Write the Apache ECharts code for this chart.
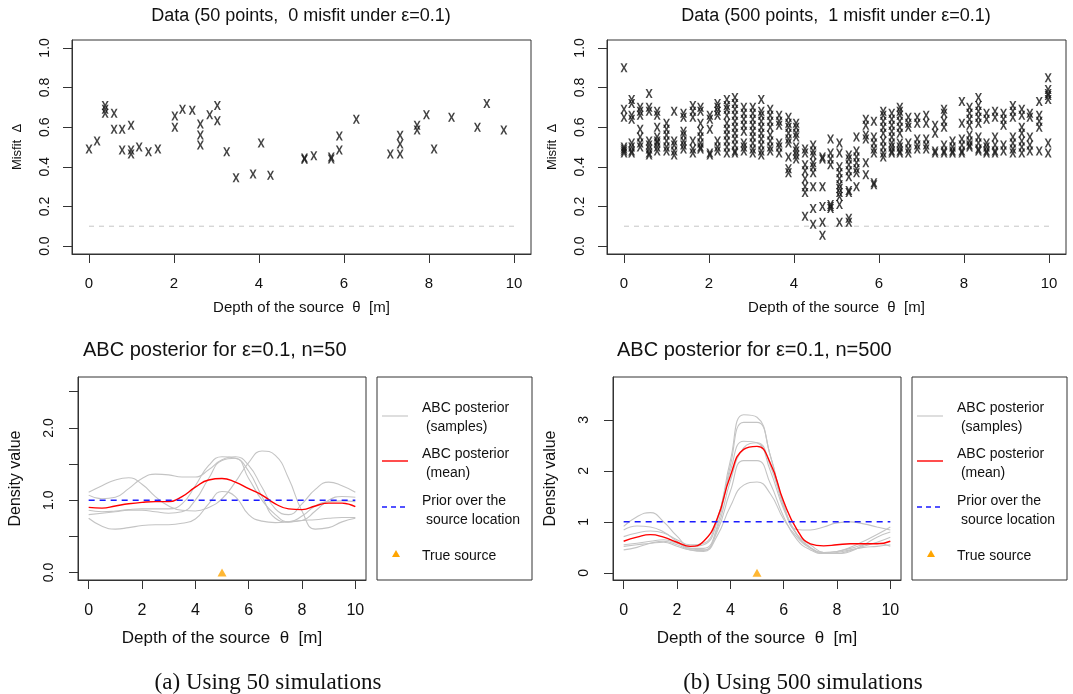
<!DOCTYPE html>
<html>
<head>
<meta charset="utf-8">
<script src="https://cdn.jsdelivr.net/npm/echarts@6/dist/echarts.min.js"></script>
<style>
html, body { margin: 0; background: #fff; }
#chart { width: 1073px; height: 694px; }
</style>
</head>
<body>
<div id="chart"></div>
<script>
// ---- top left: 50 simulations, misfit vs depth ----
const depth50 = [0.00, 0.19, 0.38, 0.38, 0.38, 0.59, 0.59, 0.78, 0.78, 0.99, 0.99, 0.99, 1.18, 1.40, 1.62,
    2.02, 2.02, 2.20, 2.43, 2.62, 2.62, 2.62, 2.84, 3.02, 3.02, 3.24, 3.46, 3.86, 4.05, 4.27,
    5.07, 5.07, 5.29, 5.70, 5.70, 5.89, 5.89, 6.29, 7.09, 7.32, 7.32, 7.32, 7.72, 7.72, 7.94,
    8.12, 8.53, 9.14, 9.36, 9.76];
const misfit50 = [0.49, 0.53, 0.71, 0.69, 0.67, 0.67, 0.59, 0.59, 0.485, 0.61, 0.485, 0.465, 0.50, 0.476, 0.49,
    0.656, 0.60, 0.69, 0.686, 0.616, 0.56, 0.51, 0.663, 0.71, 0.633, 0.476, 0.345, 0.364, 0.52, 0.357,
    0.438, 0.445, 0.456, 0.45, 0.44, 0.485, 0.556, 0.64, 0.465, 0.465, 0.515, 0.559, 0.61, 0.586, 0.663,
    0.49, 0.65, 0.60, 0.72, 0.586];

// ---- top right: 500 simulations, grouped by depth column ----
const depth500Cols = [0.00, 0.18, 0.38, 0.59, 0.78, 1.00, 1.18, 1.40, 1.62, 1.80, 2.02, 2.20, 2.42, 2.61, 2.82,
    3.03, 3.23, 3.44, 3.65, 3.87, 4.05, 4.26, 4.45, 4.67, 4.86, 5.07, 5.29, 5.47, 5.69, 5.88,
    6.10, 6.30, 6.49, 6.69, 6.90, 7.11, 7.32, 7.53, 7.73, 7.95, 8.13, 8.34, 8.53, 8.73, 8.93,
    9.15, 9.36, 9.55, 9.77, 9.98];
const misfit500Cols = [
    [0.90, 0.69, 0.65, 0.50, 0.49, 0.48, 0.47],
    [0.74, 0.72, 0.66, 0.64, 0.52, 0.50, 0.48, 0.47],
    [0.70, 0.68, 0.66, 0.59, 0.55, 0.52, 0.50],
    [0.77, 0.70, 0.68, 0.53, 0.51, 0.49, 0.47, 0.46],
    [0.68, 0.66, 0.60, 0.55, 0.53, 0.52, 0.50, 0.48],
    [0.62, 0.59, 0.56, 0.53, 0.50, 0.48],
    [0.68, 0.53, 0.51, 0.48, 0.46],
    [0.67, 0.65, 0.58, 0.56, 0.53, 0.51, 0.49],
    [0.71, 0.68, 0.65, 0.53, 0.49, 0.47],
    [0.70, 0.68, 0.62, 0.58, 0.55, 0.52, 0.50, 0.49],
    [0.66, 0.64, 0.59, 0.47, 0.46],
    [0.72, 0.70, 0.68, 0.66, 0.53, 0.50, 0.48],
    [0.74, 0.71, 0.69, 0.66, 0.62, 0.59, 0.56, 0.53, 0.50, 0.47],
    [0.75, 0.72, 0.69, 0.66, 0.63, 0.60, 0.57, 0.54, 0.51, 0.48, 0.47],
    [0.70, 0.67, 0.64, 0.61, 0.58, 0.52, 0.50, 0.48],
    [0.70, 0.67, 0.64, 0.61, 0.58, 0.55, 0.52, 0.49, 0.47],
    [0.74, 0.68, 0.66, 0.63, 0.60, 0.57, 0.54, 0.51, 0.48, 0.46],
    [0.69, 0.66, 0.63, 0.60, 0.56, 0.53, 0.50, 0.48],
    [0.66, 0.63, 0.61, 0.52, 0.50, 0.47],
    [0.65, 0.62, 0.60, 0.57, 0.54, 0.52, 0.45, 0.39, 0.37],
    [0.62, 0.60, 0.57, 0.55, 0.50, 0.48, 0.46, 0.44],
    [0.49, 0.47, 0.41, 0.38, 0.34, 0.30, 0.27, 0.15],
    [0.51, 0.48, 0.46, 0.42, 0.40, 0.37, 0.30, 0.19, 0.11],
    [0.45, 0.44, 0.30, 0.20, 0.12, 0.055],
    [0.54, 0.47, 0.44, 0.41, 0.21, 0.20, 0.19],
    [0.52, 0.47, 0.40, 0.37, 0.34, 0.31, 0.29, 0.27, 0.25, 0.21, 0.12],
    [0.46, 0.44, 0.41, 0.38, 0.35, 0.28, 0.27, 0.14, 0.12],
    [0.55, 0.48, 0.45, 0.42, 0.39, 0.37, 0.30],
    [0.64, 0.61, 0.56, 0.54, 0.42, 0.36],
    [0.63, 0.55, 0.52, 0.49, 0.47, 0.32, 0.31],
    [0.68, 0.66, 0.63, 0.60, 0.57, 0.53, 0.50, 0.47, 0.45],
    [0.67, 0.64, 0.61, 0.58, 0.55, 0.52, 0.50, 0.48, 0.47],
    [0.70, 0.68, 0.66, 0.63, 0.60, 0.57, 0.52, 0.50, 0.48, 0.47],
    [0.65, 0.62, 0.60, 0.52, 0.49, 0.47],
    [0.65, 0.62, 0.54, 0.51, 0.49],
    [0.66, 0.62, 0.54, 0.51, 0.49],
    [0.61, 0.57, 0.48, 0.47],
    [0.69, 0.67, 0.63, 0.60, 0.51, 0.48, 0.47],
    [0.53, 0.50, 0.48, 0.47],
    [0.73, 0.62, 0.54, 0.51, 0.48, 0.47],
    [0.70, 0.67, 0.64, 0.61, 0.56, 0.53, 0.51, 0.50],
    [0.75, 0.71, 0.68, 0.65, 0.62, 0.55, 0.52, 0.49, 0.48],
    [0.67, 0.64, 0.52, 0.50, 0.48, 0.47],
    [0.68, 0.65, 0.55, 0.51, 0.48, 0.47],
    [0.67, 0.64, 0.61, 0.51, 0.48],
    [0.71, 0.68, 0.65, 0.55, 0.52, 0.49, 0.47],
    [0.69, 0.66, 0.60, 0.57, 0.53, 0.50, 0.47],
    [0.67, 0.65, 0.55, 0.51, 0.48],
    [0.73, 0.66, 0.63, 0.60, 0.48],
    [0.85, 0.79, 0.77, 0.76, 0.74, 0.52, 0.47]
];

const epsilon = 0.1;
const trueSource = 5;
const priorDensity = 1.0;

// ---- bottom: posterior densities on a theta grid ----
const thetaGrid = [0, 0.5, 1, 1.5, 2, 2.5, 3, 3.5, 4, 4.5, 5, 5.5, 6, 6.5, 7, 7.5, 8, 8.5, 9, 9.5, 10];
const post50Samples = [
    [1.11, 1.20, 1.28, 1.31, 1.22, 1.05, 0.92, 0.86, 0.85, 0.90, 1.02, 1.25, 1.52, 1.68, 1.62, 1.30, 0.85, 0.60, 0.62, 0.70, 0.75],
    [1.07, 1.02, 1.04, 1.16, 1.30, 1.36, 1.35, 1.32, 1.32, 1.42, 1.56, 1.60, 1.48, 1.18, 0.88, 0.80, 0.95, 1.15, 1.25, 1.20, 1.11],
    [0.86, 0.84, 0.85, 0.87, 0.88, 0.88, 0.88, 0.95, 1.20, 1.48, 1.60, 1.58, 1.40, 1.05, 0.75, 0.70, 0.78, 0.92, 0.98, 0.99, 0.98],
    [0.75, 0.64, 0.60, 0.62, 0.65, 0.66, 0.66, 0.68, 0.74, 0.95, 1.12, 1.05, 0.80, 0.71, 0.69, 0.70, 0.72, 0.73, 0.75, 0.76, 0.76],
    [0.80, 0.82, 0.84, 0.86, 0.86, 0.84, 0.82, 0.84, 1.00, 1.30, 1.55, 1.58, 1.30, 1.00, 0.80, 0.70, 0.72, 0.85, 1.00, 1.05, 1.04]
];
const post50Mean = [0.90, 0.89, 0.92, 0.95, 0.97, 0.98, 0.98, 1.05, 1.18, 1.28, 1.30, 1.25, 1.16, 1.07, 0.95, 0.88, 0.87, 0.92, 0.96, 0.96, 0.91];

const post500Samples = [
    [0.91, 1.10, 1.18, 1.00, 0.72, 0.52, 0.55, 1.00, 2.20, 3.10, 3.05, 2.30, 1.30, 0.75, 0.50, 0.40, 0.42, 0.50, 0.62, 0.75, 0.90],
    [0.84, 0.92, 0.90, 0.80, 0.62, 0.48, 0.48, 0.90, 2.10, 2.95, 2.95, 2.30, 1.35, 0.85, 0.84, 0.90, 0.98, 1.00, 0.96, 0.90, 0.84],
    [0.71, 0.78, 0.82, 0.78, 0.65, 0.55, 0.58, 1.05, 2.00, 2.58, 2.55, 2.00, 1.25, 0.75, 0.55, 0.40, 0.38, 0.42, 0.55, 0.70, 0.80],
    [0.55, 0.58, 0.62, 0.65, 0.58, 0.48, 0.45, 0.80, 1.60, 2.20, 2.20, 1.75, 1.10, 0.65, 0.45, 0.38, 0.40, 0.45, 0.50, 0.52, 0.55],
    [0.45, 0.50, 0.58, 0.62, 0.55, 0.45, 0.42, 0.72, 1.30, 1.72, 1.78, 1.55, 1.05, 0.70, 0.48, 0.38, 0.38, 0.44, 0.52, 0.60, 0.70],
    [0.52, 0.55, 0.58, 0.60, 0.52, 0.45, 0.44, 0.85, 1.80, 2.45, 2.55, 2.10, 1.30, 0.75, 0.50, 0.40, 0.42, 0.48, 0.55, 0.58, 0.52]
];
const post500Mean = [0.62, 0.70, 0.75, 0.70, 0.60, 0.52, 0.62, 1.05, 1.90, 2.42, 2.48, 2.15, 1.40, 0.85, 0.57, 0.53, 0.55, 0.57, 0.57, 0.57, 0.62];

const xTicks = [0, 2, 4, 6, 8, 10];
const misfitTicks = [0, 0.2, 0.4, 0.6, 0.8, 1.0];
const dens50Ticks = [0, 0.5, 1, 1.5, 2, 2.5];
const dens50Labels = [0, 1, 2];
const dens500Ticks = [0, 1, 2, 3];

const legendLabels = [['ABC posterior', ' (samples)'], ['ABC posterior', ' (mean)'], ['Prior over the', ' source location'], ['True source']];

const SANS = '"Liberation Sans", Arial, sans-serif';
const SERIF = '"Liberation Serif", "Times New Roman", serif';
const INK = '#111';
const XMARK = 'path://M0,0L2.5,0L5,3.6L7.5,0L10,0L6.4,5L10,10L7.5,10L5,6.4L2.5,10L0,10L3.6,5Z';

var myChart = echarts.init(document.getElementById('chart'));

function xAxisFor(grid, labelSize, nameSize, margin, gap) {
    return {
        type: 'value', gridIndex: grid, min: -0.4, max: 10.4,
        axisLine: { show: true, onZero: false, lineStyle: { color: '#333' } },
        splitLine: { show: false },
        axisTick: { show: true, inside: false, length: 9, customValues: xTicks, lineStyle: { color: '#333' } },
        axisLabel: { customValues: xTicks, fontSize: labelSize, fontFamily: SANS, color: INK, margin: margin },
        name: 'Depth of the source  θ  [m]', nameLocation: 'middle', nameGap: gap,
        nameTextStyle: { fontSize: nameSize, fontFamily: SANS, color: INK }
    };
}

function yAxisFor(grid, min, max, ticks, labels, fmt, name, nameSize, gap, margin) {
    return {
        type: 'value', gridIndex: grid, min: min, max: max,
        axisLine: { show: true, onZero: false, lineStyle: { color: '#333' } },
        splitLine: { show: false },
        axisTick: { show: true, inside: false, length: 9, customValues: ticks, lineStyle: { color: '#333' } },
        axisLabel: { customValues: labels, rotate: 90, fontSize: 14, fontFamily: SANS, color: INK, margin: margin, formatter: fmt },
        name: name, nameLocation: 'middle', nameGap: gap,
        nameTextStyle: { fontSize: nameSize, fontFamily: SANS, color: INK }
    };
}

function flattenCols(cols, vals) {
    let out = [];
    for (let i in cols) {
        for (let v of vals[i]) out.push([cols[i], v]);
    }
    return out;
}

function pairs(xs, ys) {
    return xs.map((x, i) => [x, ys[i]]);
}

function scatterSeries(idx, data) {
    return {
        type: 'scatter', xAxisIndex: idx, yAxisIndex: idx, data: data,
        symbol: XMARK, symbolSize: [7, 9],
        itemStyle: { color: '#141414' }, silent: true
    };
}

function epsLine(idx) {
    return {
        type: 'line', xAxisIndex: idx, yAxisIndex: idx,
        data: [[0, epsilon], [10, epsilon]], showSymbol: false, silent: true,
        lineStyle: { color: '#d3d3d3', width: 1.3, type: [5, 5] }, z: 1
    };
}

function posteriorSeries(idx, samples, mean) {
    let list = samples.map(s => ({
        type: 'line', xAxisIndex: idx, yAxisIndex: idx, data: pairs(thetaGrid, s),
        smooth: true, showSymbol: false, silent: true,
        lineStyle: { color: '#c4c4c4', width: 1.1 }
    }));
    list.push({
        type: 'line', xAxisIndex: idx, yAxisIndex: idx, data: pairs(thetaGrid, mean),
        smooth: true, showSymbol: false, silent: true,
        lineStyle: { color: '#ff0000', width: 1.4 }
    });
    list.push({
        type: 'line', xAxisIndex: idx, yAxisIndex: idx, data: [[0, priorDensity], [10, priorDensity]],
        showSymbol: false, silent: true,
        lineStyle: { color: '#1a1aff', width: 1.5, type: [6, 5] }
    });
    list.push({
        type: 'scatter', xAxisIndex: idx, yAxisIndex: idx, data: [[trueSource, 0]],
        symbol: 'triangle', symbolSize: [9, 8], itemStyle: { color: '#ffa500' }, silent: true
    });
    return list;
}

// legend boxes drawn as plain graphics
function legendBox(dx) {
    const els = [];
    els.push({ type: 'rect', shape: { x: 377 + dx, y: 377, width: 155, height: 203 },
        style: { fill: 'none', stroke: '#333', lineWidth: 1 } });
    const rows = [408, 454, 501];
    const lineY = [416, 461, 507];
    const strokes = [
        { stroke: '#c4c4c4', lineWidth: 1.1 },
        { stroke: '#ff0000', lineWidth: 1.4 },
        { stroke: '#1a1aff', lineWidth: 1.5, lineDash: [5, 4] }
    ];
    for (let i = 0; i < 3; i++) {
        els.push({ type: 'line', shape: { x1: 382 + dx, y1: lineY[i], x2: 408 + dx, y2: lineY[i] }, style: strokes[i] });
        els.push({ type: 'text', x: 422 + dx, y: rows[i],
            style: { text: legendLabels[i][0], font: '14px ' + SANS, fill: INK, textVerticalAlign: 'middle', verticalAlign: 'middle' } });
        els.push({ type: 'text', x: 422 + dx, y: rows[i] + 19,
            style: { text: legendLabels[i][1], font: '14px ' + SANS, fill: INK, textVerticalAlign: 'middle', verticalAlign: 'middle' } });
    }
    els.push({ type: 'polygon', shape: { points: [[392 + dx, 557], [400 + dx, 557], [396 + dx, 550]] },
        style: { fill: '#ffa500' } });
    els.push({ type: 'text', x: 422 + dx, y: 556,
        style: { text: legendLabels[3][0], font: '14px ' + SANS, fill: INK, textVerticalAlign: 'middle', verticalAlign: 'middle' } });
    return els;
}

function titleAt(text, left, top, size, family, align) {
    return {
        text: text, left: left, top: top, padding: 0, textAlign: align,
        textStyle: { fontSize: size, fontWeight: 'normal', fontFamily: family, color: INK }
    };
}

var option = {
    animation: false,
    backgroundColor: '#fff',
    title: [
        titleAt('Data (50 points,  0 misfit under ε=0.1)', 301, 7, 18, SANS, 'center'),
        titleAt('Data (500 points,  1 misfit under ε=0.1)', 836, 7, 18, SANS, 'center'),
        titleAt('ABC posterior for ε=0.1, n=50', 83, 340, 20, SANS, 'left'),
        titleAt('ABC posterior for ε=0.1, n=500', 617, 340, 20, SANS, 'left'),
        titleAt('(a) Using 50 simulations', 268, 671, 23, SERIF, 'center'),
        titleAt('(b) Using 500 simulations', 803, 671, 23, SERIF, 'center')
    ],
    grid: [
        { left: 72, top: 40, width: 459, height: 214, show: true, borderColor: '#333', borderWidth: 1 },
        { left: 607, top: 40, width: 459, height: 214, show: true, borderColor: '#333', borderWidth: 1 },
        { left: 78, top: 377, width: 288, height: 203, show: true, borderColor: '#333', borderWidth: 1 },
        { left: 613, top: 377, width: 288, height: 203, show: true, borderColor: '#333', borderWidth: 1 }
    ],
    xAxis: [
        xAxisFor(0, 15, 15, 22, 46),
        xAxisFor(1, 15, 15, 22, 46),
        xAxisFor(2, 16, 17, 23, 50),
        xAxisFor(3, 16, 17, 23, 50)
    ],
    yAxis: [
        yAxisFor(0, -0.04, 1.04, misfitTicks, misfitTicks, v => v.toFixed(1), 'Misfit  Δ', 13, 48, 20),
        yAxisFor(1, -0.04, 1.04, misfitTicks, misfitTicks, v => v.toFixed(1), 'Misfit  Δ', 13, 48, 20),
        yAxisFor(2, -0.104, 2.704, dens50Ticks, dens50Labels, v => v.toFixed(1), 'Density value', 16, 54, 22),
        yAxisFor(3, -0.14, 3.84, dens500Ticks, dens500Ticks, v => String(v), 'Density value', 16, 54, 22)
    ],
    series: [
        epsLine(0),
        scatterSeries(0, pairs(depth50, misfit50)),
        epsLine(1),
        scatterSeries(1, flattenCols(depth500Cols, misfit500Cols))
    ].concat(posteriorSeries(2, post50Samples, post50Mean), posteriorSeries(3, post500Samples, post500Mean)),
    graphic: legendBox(0).concat(legendBox(535))
};

myChart.setOption(option);
</script>
</body>
</html>
